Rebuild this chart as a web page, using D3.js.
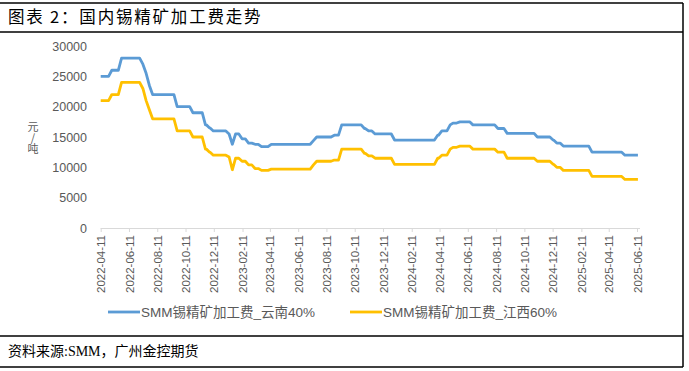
<!DOCTYPE html>
<html>
<head>
<meta charset="utf-8">
<script src="https://cdn.jsdelivr.net/npm/d3@7"></script>
<style>
  body { margin: 0; background: #fff; }
  svg { display: block; }
</style>
</head>
<body>
<div id="chart"></div>
<script>
// Breakpoints of the weekly step series (value holds until next date)
const dates = [
  "2022-04-11", "2022-05-05", "2022-05-26", "2022-07-11", "2022-07-18", "2022-07-25", "2022-08-01",
  "2022-09-23", "2022-10-27", "2022-11-23", "2022-12-02", "2022-12-10", "2023-01-13", "2023-01-20",
  "2023-01-27", "2023-02-10", "2023-02-24", "2023-03-10", "2023-03-24", "2023-04-14", "2023-07-14",
  "2023-07-21", "2023-08-28", "2023-09-13", "2023-11-01", "2023-11-10", "2023-11-24", "2024-01-05",
  "2024-04-07", "2024-04-16", "2024-05-04", "2024-05-10", "2024-05-25", "2024-06-22", "2024-08-15",
  "2024-09-04", "2024-11-08", "2024-12-12", "2024-12-20", "2025-01-03", "2025-03-06", "2025-05-16",
  "2025-06-13"
];
const yunnan = [
  25000, 26000, 28000, 27000, 25500, 23500, 22000,
  20000, 19000, 17000, 16500, 16000, 15500, 13800,
  15500, 14700, 14000, 13800, 13400, 13800, 14400,
  15000, 15300, 17000, 16400, 16000, 15500, 14500,
  15300, 16000, 17000, 17300, 17500, 17000, 16400,
  15600, 15000, 14500, 14000, 13500, 12500, 12000,
  12000
];
const jiangxi = [
  21000, 22000, 24000, 23000, 21000, 19500, 18000,
  16000, 15000, 13000, 12500, 12000, 11700, 9600,
  11500, 11000, 10400, 9800, 9500, 9700, 10400,
  11000, 11200, 13000, 12300, 11900, 11500, 10500,
  11500, 12000, 13000, 13300, 13500, 13000, 12500,
  11500, 11000, 10500, 10000, 9500, 8500, 8000,
  8000
];
const seriesNames = ["SMM锡精矿加工费_云南40%", "SMM锡精矿加工费_江西60%"];
const seriesColors = ["#5B9BD5", "#FFC000"];
const yTicks = [0, 5000, 10000, 15000, 20000, 25000, 30000];
const xTickLabels = [
  "2022-04-11", "2022-06-11", "2022-08-11", "2022-10-11", "2022-12-11",
  "2023-02-11", "2023-04-11", "2023-06-11", "2023-08-11", "2023-10-11", "2023-12-11",
  "2024-02-11", "2024-04-11", "2024-06-11", "2024-08-11", "2024-10-11", "2024-12-11",
  "2025-02-11", "2025-04-11", "2025-06-11"
];

const width = 689, height = 371;
const parse = d3.timeParse("%Y-%m-%d");

const svg = d3.select("#chart").append("svg")
  .attr("width", width)
  .attr("height", height);

// frame lines
const frame = [
  [0, 3, 683, 3], [0, 32, 683, 32], [683, 3, 683, 367],
  [0, 336, 683, 336], [0, 367, 683, 367]
];
svg.selectAll("line.frame")
  .data(frame)
  .enter()
  .append("line")
  .attr("class", "frame")
  .attr("x1", d => d[0]).attr("y1", d => d[1])
  .attr("x2", d => d[2]).attr("y2", d => d[3])
  .attr("stroke", "#000")
  .attr("stroke-width", 1.5);

// title and source
svg.append("text")
  .attr("x", 8)
  .attr("y", 23)
  .style("font-family", "'Noto Sans CJK SC', sans-serif")
  .style("font-size", "16.5px")
  .style("letter-spacing", "1.8px")
  .attr("fill", "#000")
  .text("图表 2：国内锡精矿加工费走势");

svg.append("text")
  .attr("x", 8)
  .attr("y", 356)
  .style("font-family", "'Liberation Serif', 'Noto Sans CJK SC', serif")
  .style("font-size", "14px")
  .attr("fill", "#000")
  .text("资料来源:SMM，广州金控期货");

// scales
const x = d3.scaleTime()
  .domain([parse("2022-04-11"), parse("2025-06-11")])
  .range([100.7, 637]);

const y = d3.scaleLinear()
  .domain([0, 30000])
  .range([228, 46]);

// Y axis labels
svg.append("g")
  .selectAll("text")
  .data(yTicks)
  .enter()
  .append("text")
  .attr("x", 87)
  .attr("y", d => y(d) + 4.5)
  .attr("text-anchor", "end")
  .style("font-family", "'Liberation Sans', Arial, sans-serif")
  .style("font-size", "12.5px")
  .attr("fill", "#595959")
  .text(d => d);

// Y axis unit, written top to bottom with upright glyphs
svg.append("text")
  .attr("x", 33)
  .attr("y", 121)
  .style("writing-mode", "vertical-rl")
  .style("text-orientation", "upright")
  .style("font-family", "'Noto Sans CJK SC', sans-serif")
  .style("font-size", "11px")
  .attr("fill", "#595959")
  .text("元/吨");

// X axis
const xAxis = d3.axisBottom(x)
  .tickValues(xTickLabels.map(parse))
  .tickSize(4)
  .tickFormat(d3.timeFormat("%Y-%m-%d"));

const gx = svg.append("g")
  .attr("transform", "translate(0,228)")
  .call(xAxis);

gx.select(".domain")
  .attr("d", `M${x(parse("2022-04-11"))},0.5H${x(parse("2025-06-11")) + 3}`)
  .attr("stroke", "#d9d9d9");
gx.selectAll(".tick line").attr("stroke", "#d9d9d9");
gx.selectAll(".tick text")
  .attr("transform", "rotate(-90)")
  .attr("x", -7)
  .attr("y", 0)
  .attr("dy", "0.35em")
  .attr("text-anchor", "end")
  .style("font-family", "'Liberation Sans', Arial, sans-serif")
  .style("font-size", "11.5px")
  .attr("fill", "#595959");

// lines: weekly points joined straight, so each change runs over one week
const line = d3.line()
  .x(d => x(d.date))
  .y(d => y(d.value));

[yunnan, jiangxi].forEach((vals, i) => {
  const pts = [];
  dates.forEach((d, j) => {
    const dt = parse(d);
    if (j > 0) {
      const prevWeek = d3.timeDay.offset(dt, -7);
      if (prevWeek > parse(dates[j - 1])) pts.push({ date: prevWeek, value: vals[j - 1] });
    }
    pts.push({ date: dt, value: vals[j] });
  });
  svg.append("path")
    .datum(pts)
    .attr("fill", "none")
    .attr("stroke", seriesColors[i])
    .attr("stroke-width", 2.8)
    .attr("stroke-linejoin", "round")
    .attr("d", line);
});

// legend
const legendX = [108, 350];
seriesNames.forEach((name, i) => {
  svg.append("line")
    .attr("x1", legendX[i]).attr("x2", legendX[i] + 32)
    .attr("y1", 312).attr("y2", 312)
    .attr("stroke", seriesColors[i])
    .attr("stroke-width", 2.8);
  svg.append("text")
    .attr("x", legendX[i] + 33)
    .attr("y", 317)
    .style("font-family", "'Liberation Sans', 'Noto Sans CJK SC', sans-serif")
    .style("font-size", "13.5px")
    .attr("fill", "#595959")
    .text(name);
});
</script>
</body>
</html>
